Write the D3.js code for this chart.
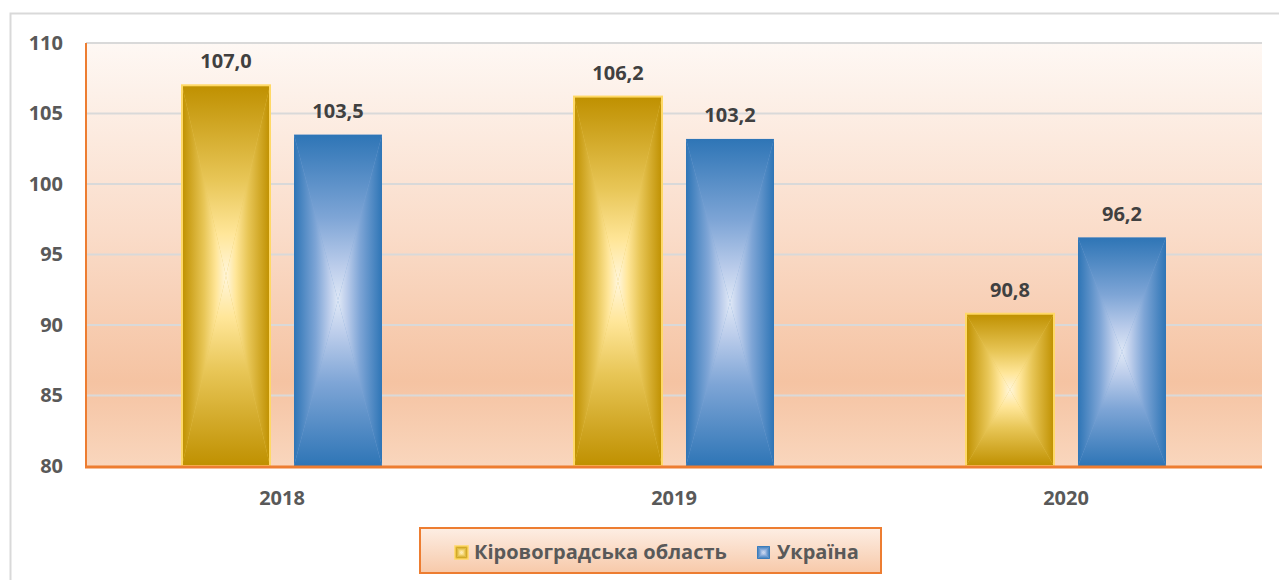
<!DOCTYPE html>
<html>
<head>
<meta charset="utf-8">
<script src="https://cdn.jsdelivr.net/npm/d3@7"></script>
<style>
  body { margin: 0; background: #fff; }
  text { font-family: "Open Sans", "DejaVu Sans", sans-serif; font-weight: 700; }
</style>
</head>
<body>
<script>
// chart data
var years = ["2018", "2019", "2020"];
var seriesNames = ["Кіровоградська область", "Україна"];
var kirovohrad = [107.0, 106.2, 90.8];
var ukraine = [103.5, 103.2, 96.2];
var yTicks = [80, 85, 90, 95, 100, 105, 110];

// set up chart area
var W = 1279, H = 580;
var plot = { left: 86, right: 1262, top: 43, bottom: 466 };

var svg = d3.select("body").append("svg")
  .attr("width", W)
  .attr("height", H);

var defs = svg.append("defs");

// outer chart frame
svg.append("rect")
  .attr("x", 10.5).attr("y", 13.5)
  .attr("width", W).attr("height", H)
  .attr("fill", "#fff")
  .attr("stroke", "#d9d9d9")
  .attr("stroke-width", 2);

// plot background
var bg = defs.append("linearGradient").attr("id", "plotBg")
  .attr("x1", 0).attr("y1", 0).attr("x2", 0).attr("y2", 1);
[[0, "#fef8f4"], [0.45, "#fadcc9"], [0.8, "#f5c3a2"], [1, "#f9d6bd"]].forEach(function(s) {
  bg.append("stop").attr("offset", s[0]).attr("stop-color", s[1]);
});

svg.append("rect")
  .attr("x", plot.left).attr("y", plot.top)
  .attr("width", plot.right - plot.left).attr("height", plot.bottom - plot.top)
  .attr("fill", "url(#plotBg)");

// scales
var xScale = d3.scaleBand().domain(years).range([plot.left, plot.right]);
var groupW = 200;
var xSub = d3.scaleBand().domain(seriesNames)
  .range([(xScale.bandwidth() - groupW) / 2, (xScale.bandwidth() + groupW) / 2])
  .paddingInner(0.2143);
var yScale = d3.scaleLinear().domain([80, 110]).range([plot.bottom, plot.top]);

// gridlines
svg.append("g").selectAll("line")
  .data(yTicks.filter(function(d) { return d > 80; }))
  .enter().append("line")
  .attr("x1", plot.left).attr("x2", plot.right)
  .attr("y1", function(d) { return yScale(d); })
  .attr("y2", function(d) { return yScale(d); })
  .attr("stroke", "#d9d9d9")
  .attr("stroke-width", 2);

// gradients for the bars (rectangle path look: 4 triangles)
var palettes = {
  gold: [[0, "#bf9000"], [0.5, "#e8c657"], [0.78, "#ffe699"], [1, "#fff6dc"]],
  blue: [[0, "#2e75b6"], [0.5, "#7ea5d6"], [0.8, "#bccdeb"], [1, "#dfe8f6"]]
};
var dirs = {
  top: [0, 0, 0, 1],
  bottom: [0, 1, 0, 0],
  left: [0, 0, 1, 0],
  right: [1, 0, 0, 0]
};
Object.keys(palettes).forEach(function(p) {
  Object.keys(dirs).forEach(function(k) {
    var d = dirs[k];
    var g = defs.append("linearGradient").attr("id", p + "-" + k)
      .attr("x1", d[0]).attr("y1", d[1]).attr("x2", d[2]).attr("y2", d[3]);
    palettes[p].forEach(function(s) {
      g.append("stop").attr("offset", s[0]).attr("stop-color", s[1]);
    });
  });
});

// legend gradient
var lg = defs.append("linearGradient").attr("id", "legendBg")
  .attr("x1", 0).attr("y1", 0).attr("x2", 0).attr("y2", 1);
lg.append("stop").attr("offset", 0).attr("stop-color", "#fdeee4");
lg.append("stop").attr("offset", 1).attr("stop-color", "#f7c9a9");

function drawBar(g, x0, y0, w, h, pal, mid) {
  var x1 = x0 + w, y1 = y0 + h, cx = x0 + w / 2, cy = y0 + h / 2;
  g.append("rect").attr("x", x0).attr("y", y0).attr("width", w).attr("height", h)
    .attr("fill", mid);
  var tris = {
    left: [[x0, y0], [cx, cy], [x0, y1]],
    right: [[x1, y0], [cx, cy], [x1, y1]],
    top: [[x0, y0], [x1, y0], [cx, cy]],
    bottom: [[x0, y1], [x1, y1], [cx, cy]]
  };
  Object.keys(tris).forEach(function(k) {
    g.append("polygon")
      .attr("points", tris[k].map(function(p) { return p.join(","); }).join(" "))
      .attr("fill", "url(#" + pal + "-" + k + ")");
  });
}

var series = [
  { name: seriesNames[0], values: kirovohrad, pal: "gold", mid: "#e8c657", stroke: "#ffd966" },
  { name: seriesNames[1], values: ukraine, pal: "blue", mid: "#7ea5d6", stroke: null }
];

var bars = svg.append("g");
series.forEach(function(s) {
  years.forEach(function(yr, i) {
    var x0 = xScale(yr) + xSub(s.name);
    var y0 = yScale(s.values[i]);
    var w = xSub.bandwidth();
    var h = yScale(80) - y0;
    var g = bars.append("g");
    drawBar(g, x0, y0, w, h, s.pal, s.mid);
    if (s.stroke) {
      g.append("rect").attr("x", x0).attr("y", y0).attr("width", w).attr("height", h)
        .attr("fill", "none").attr("stroke", s.stroke).attr("stroke-width", 2);
    }
    // value label
    bars.append("text")
      .attr("x", x0 + w / 2)
      .attr("y", y0 - 17)
      .attr("text-anchor", "middle")
      .attr("fill", "#404040")
      .style("font-size", "20px")
      .text(d3.format(".1f")(s.values[i]).replace(".", ","));
  });
});

// axes lines
svg.append("line")
  .attr("x1", plot.left).attr("x2", plot.left)
  .attr("y1", plot.top).attr("y2", plot.bottom)
  .attr("stroke", "#ed7d31").attr("stroke-width", 2);
svg.append("line")
  .attr("x1", plot.left - 1).attr("x2", plot.right)
  .attr("y1", plot.bottom + 1).attr("y2", plot.bottom + 1)
  .attr("stroke", "#ed7d31").attr("stroke-width", 3);

// y axis labels
var yAxis = d3.axisLeft(yScale).tickValues(yTicks).tickSize(0).tickPadding(23);
var yg = svg.append("g")
  .attr("transform", "translate(" + plot.left + ",0)")
  .call(yAxis);
yg.select(".domain").remove();
yg.selectAll("text")
  .attr("fill", "#595959")
  .style("font-size", "20px");

// x axis labels
var xAxis = d3.axisBottom(xScale).tickSize(0).tickPadding(25);
var xg = svg.append("g")
  .attr("transform", "translate(0," + plot.bottom + ")")
  .call(xAxis);
xg.select(".domain").remove();
xg.selectAll("text")
  .attr("fill", "#595959")
  .style("font-size", "20px");

// legend
var legend = svg.append("g");
legend.append("rect")
  .attr("x", 420).attr("y", 528).attr("width", 461).attr("height", 45)
  .attr("fill", "url(#legendBg)")
  .attr("stroke", "#ed7d31").attr("stroke-width", 2);

var legendItems = [
  { s: series[0], sx: 455, tx: 474 },
  { s: series[1], sx: 757, tx: 777 }
];
legendItems.forEach(function(it) {
  var g = legend.append("g");
  drawBar(g, it.sx, 546, 13, 13, it.s.pal, it.s.mid);
  if (it.s.stroke) {
    g.append("rect").attr("x", it.sx).attr("y", 546).attr("width", 13).attr("height", 13)
      .attr("fill", "none").attr("stroke", it.s.stroke).attr("stroke-width", 1.5);
  }
  legend.append("text")
    .attr("x", it.tx).attr("y", 559)
    .attr("fill", "#595959")
    .style("font-size", "20px")
    .text(it.s.name);
});
</script>
</body>
</html>
